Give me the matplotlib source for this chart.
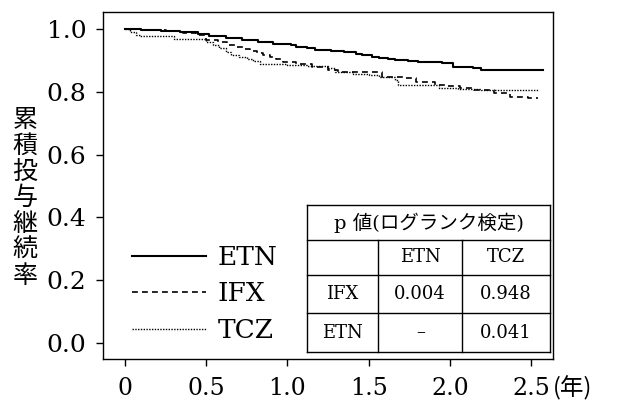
import matplotlib
matplotlib.use("Agg")
import matplotlib.pyplot as plt
from matplotlib.lines import Line2D

plt.rcParams['font.family'] = ['DejaVu Serif', 'Noto Sans CJK JP']

# ---- data ----
etn_t = [0, 0.10, 0.22, 0.34, 0.45, 0.52, 0.62, 0.72, 0.82, 0.91, 1.02, 1.05, 1.12, 1.17, 1.27,
         1.35, 1.42, 1.46, 1.52, 1.56, 1.62, 1.66, 1.74, 1.80, 1.95, 2.02, 2.08, 2.14, 2.19, 2.57]
etn_s = [1.000, 0.997, 0.994, 0.990, 0.984, 0.978, 0.972, 0.966, 0.959, 0.952, 0.949, 0.943, 0.938,
         0.933, 0.930, 0.927, 0.921, 0.917, 0.912, 0.908, 0.905, 0.902, 0.898, 0.895, 0.892, 0.879,
         0.878, 0.876, 0.870, 0.870]

ifx_t = [0, 0.12, 0.25, 0.36, 0.44, 0.50, 0.57, 0.63, 0.68, 0.73, 0.77, 0.81, 0.85, 0.89, 0.93,
         0.97, 1.05, 1.15, 1.25, 1.31, 1.54, 1.58, 1.71, 1.79, 1.91, 1.98, 2.06, 2.15, 2.27, 2.37,
         2.48, 2.54]
ifx_s = [1.000, 0.997, 0.993, 0.988, 0.981, 0.965, 0.957, 0.949, 0.943, 0.937, 0.930, 0.924, 0.918,
         0.911, 0.903, 0.895, 0.887, 0.878, 0.870, 0.863, 0.863, 0.848, 0.844, 0.832, 0.822, 0.819,
         0.813, 0.805, 0.797, 0.784, 0.781, 0.781]

tcz_t = [0, 0.03, 0.07, 0.09, 0.30, 0.50, 0.54, 0.58, 0.62, 0.65, 0.70, 0.75, 0.79, 0.83, 0.92,
         1.00, 1.12, 1.25, 1.29, 1.40, 1.50, 1.56, 1.66, 1.68, 1.89, 1.93, 2.05, 2.19, 2.55]
tcz_s = [1.000, 0.990, 0.981, 0.978, 0.968, 0.959, 0.949, 0.938, 0.927, 0.917, 0.911, 0.905, 0.897,
         0.889, 0.887, 0.886, 0.881, 0.876, 0.863, 0.857, 0.852, 0.848, 0.838, 0.822, 0.822, 0.813,
         0.810, 0.806, 0.806]

series_names = ["ETN", "IFX", "TCZ"]
x_ticks = [0, 0.5, 1.0, 1.5, 2.0, 2.5]
x_tick_labels = ["0", "0.5", "1.0", "1.5", "2.0", "2.5"]
y_ticks = [0.0, 0.2, 0.4, 0.6, 0.8, 1.0]
y_tick_labels = ["0.0", "0.2", "0.4", "0.6", "0.8", "1.0"]
y_label_text = "累積投与継続率"
x_unit_text = "(年)"

table_title = "p 値(ログランク検定)"
table_cols = ["ETN", "TCZ"]
table_rows = ["IFX", "ETN"]
table_vals = [["0.004", "0.948"], ["–", "0.041"]]

# ---- figure ----
fig = plt.figure(figsize=(6.28, 4.04), dpi=100)
ax = fig.add_axes([0.164, 0.1114, 0.717, 0.8589])

ax.plot(etn_t, etn_s, drawstyle='steps-post', color='black', lw=1.5, label=series_names[0])
ax.plot(ifx_t, ifx_s, drawstyle='steps-post', color='black', lw=1.2, linestyle=(0, (3.5, 2.5)), label=series_names[1])
ax.plot(tcz_t, tcz_s, drawstyle='steps-post', color='black', lw=1.0, linestyle=(0, (1, 1)), label=series_names[2])

ax.set_xlim(-0.135, 2.635)
ax.set_ylim(-0.051, 1.054)
ax.set_xticks(x_ticks)
ax.set_xticklabels(x_tick_labels, fontsize=17)
ax.set_yticks(y_ticks)
ax.set_yticklabels(y_tick_labels, fontsize=18)
ax.tick_params(axis='y', direction='out', length=5, width=1, pad=7)
ax.tick_params(axis='x', direction='out', length=5, width=1, pad=8)
for sp in ax.spines.values():
    sp.set_linewidth(1.0)

# y label stacked vertically
fig.text(25/628, 1-198/404, "\n".join(y_label_text), ha='center', va='center',
         fontsize=18, family='Noto Sans CJK JP', linespacing=1.0)
# unit after x axis
fig.text(553/628, 1-388/404, x_unit_text, ha='left', va='center', fontsize=17,
         family='Noto Sans CJK JP')

# legend
leg = ax.legend(loc='lower left', bbox_to_anchor=(0.064, 0.046), frameon=False,
                fontsize=19, handlelength=2.8, handletextpad=0.45, labelspacing=0.44,
                borderpad=0, borderaxespad=0)

# table (axes coordinates)
xl, xc1, xc2, xr = 0.453, 0.611, 0.798, 0.993
yt, yh, yr1, yr2, yb = 0.4438, 0.343, 0.242, 0.1326, 0.020
tr = ax.transAxes
lw_t = 1.0
for y in [yt, yh, yr1, yr2, yb]:
    ax.add_line(Line2D([xl, xr], [y, y], transform=tr, color='black', lw=lw_t))
for x in [xl, xr]:
    ax.add_line(Line2D([x, x], [yb, yt], transform=tr, color='black', lw=lw_t))
for x in [xc1, xc2]:
    ax.add_line(Line2D([x, x], [yb, yh], transform=tr, color='black', lw=lw_t))

ax.text((xl+xr)/2, (yt+yh)/2, table_title, transform=tr, ha='center', va='center', fontsize=14)
colx = [(xc1+xc2)/2, (xc2+xr)/2]
rowy = [(yr1+yr2)/2, (yr2+yb)/2]
for j, c in enumerate(table_cols):
    ax.text(colx[j], (yh+yr1)/2, c, transform=tr, ha='center', va='center', fontsize=13)
for i, r in enumerate(table_rows):
    ax.text((xl+xc1)/2, rowy[i], r, transform=tr, ha='center', va='center', fontsize=13)
    for j in range(2):
        ax.text(colx[j], rowy[i], table_vals[i][j], transform=tr, ha='center', va='center', fontsize=13)

fig.savefig("out.png", dpi=100)
